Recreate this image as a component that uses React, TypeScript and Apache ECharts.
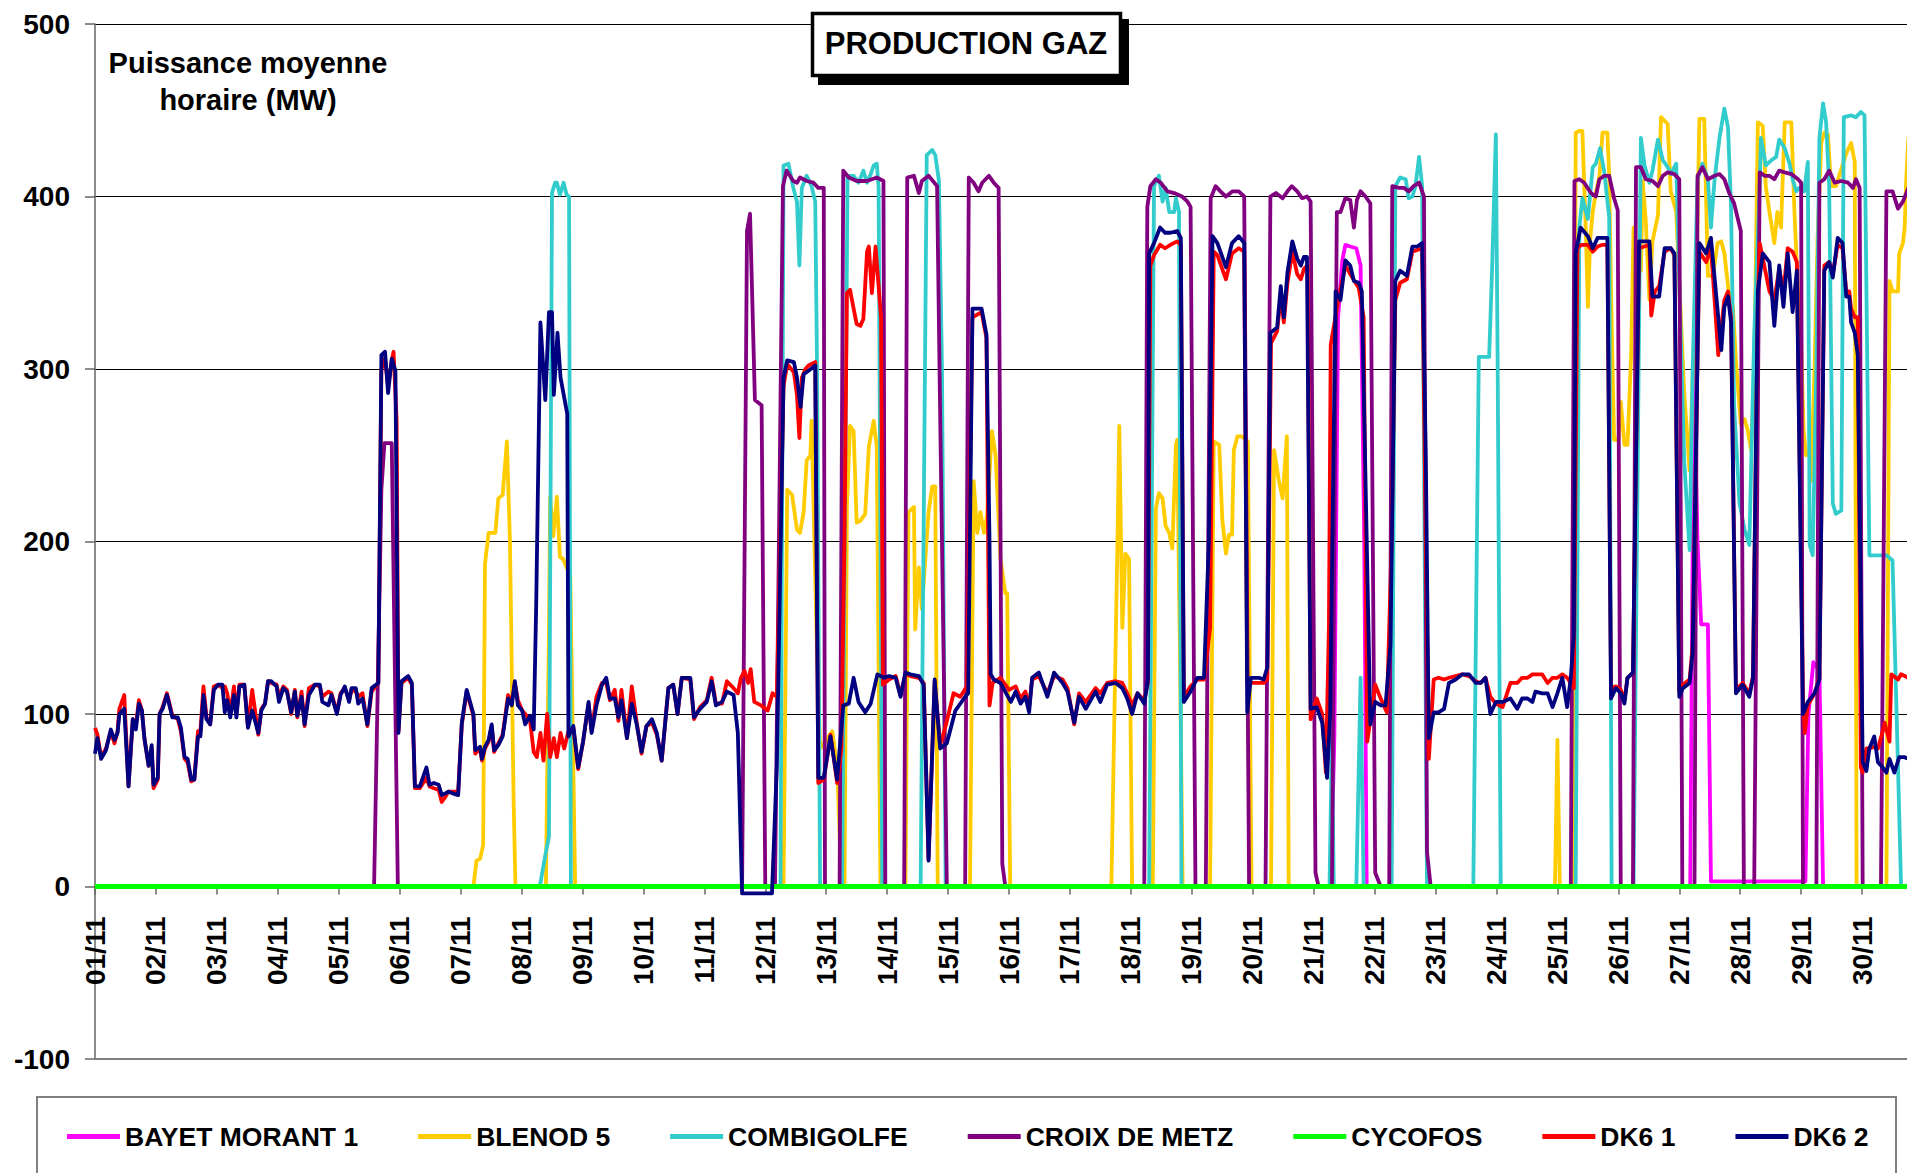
import React, { useEffect, useRef } from "react";
import * as echarts from "echarts";

const FONT = '"Liberation Sans", Arial, Helvetica, sans-serif';

const SERIES_NAMES = ["BAYET MORANT 1", "BLENOD 5", "COMBIGOLFE", "CROIX DE METZ", "CYCOFOS", "DK6 1", "DK6 2"];
const SERIES_COLORS = ["#FF00FF", "#FFCC00", "#33CCCC", "#800080", "#00FF00", "#FF0000", "#000080"];
const Y_TICKS = [-100, 0, 100, 200, 300, 400, 500];
const DAYS_IN_MONTH = 30;
const MONTH_LABEL = "11";

// [day offset from 01/11 00:00, MW]
const BAYET_MORANT_1 = [
  [0, 0], [20.28, 0], [20.34, 87], [20.40, 330], [20.47, 363], [20.52, 372], [20.60, 371], [20.70, 370], [20.77, 360], [20.83, 200], [20.87, 0],
  [26.18, 0], [26.24, 300], [26.30, 200], [26.36, 152], [26.47, 152], [26.52, 3], [28.07, 3], [28.12, 100], [28.20, 130], [28.30, 125], [28.36, 0], [30, 0],
];

const BLENOD_5 = [
  [0, 0], [6.21, 0], [6.26, 15], [6.32, 16], [6.37, 24], [6.40, 187], [6.46, 205], [6.57, 205], [6.62, 225], [6.69, 227], [6.76, 258], [6.81, 200], [6.87, 50], [6.90, 0],
  [7.40, 0], [7.45, 150], [7.47, 226], [7.52, 203], [7.58, 226], [7.63, 191], [7.68, 190], [7.80, 180], [7.88, 0],
  [11.30, 0], [11.36, 230], [11.44, 227], [11.52, 207], [11.57, 205], [11.63, 217], [11.68, 247], [11.74, 250], [11.76, 270], [11.84, 150], [11.90, 80], [12.00, 85], [12.10, 90], [12.18, 70], [12.25, 0],
  [12.30, 0], [12.34, 220], [12.39, 267], [12.45, 264], [12.50, 211], [12.56, 212], [12.64, 216], [12.70, 255], [12.78, 270], [12.83, 255], [12.89, 0],
  [13.30, 0], [13.35, 217], [13.44, 220], [13.46, 149], [13.52, 185], [13.57, 161], [13.68, 217], [13.74, 232], [13.79, 232], [13.83, 0],
  [14.36, 0], [14.42, 235], [14.48, 205], [14.53, 217], [14.59, 205], [14.64, 215], [14.72, 264], [14.78, 250], [14.86, 190], [14.94, 170], [14.97, 170], [15.02, 0],
  [16.68, 0], [16.78, 200], [16.81, 267], [16.86, 150], [16.91, 193], [16.97, 190], [17.02, 0],
  [17.36, 0], [17.41, 219], [17.46, 228], [17.52, 225], [17.57, 209], [17.63, 205], [17.68, 196], [17.74, 256], [17.76, 259], [17.80, 150], [17.85, 0],
  [18.30, 0], [18.36, 258], [18.45, 256], [18.50, 213], [18.56, 193], [18.61, 204], [18.66, 204], [18.69, 253], [18.75, 261], [18.82, 261], [18.92, 258], [18.98, 0],
  [19.30, 0], [19.35, 253], [19.43, 235], [19.49, 225], [19.56, 261], [19.59, 0],
  [23.96, 0], [24.00, 85], [24.04, 0],
  [24.27, 0], [24.30, 437], [24.36, 438], [24.41, 438], [24.47, 376], [24.50, 336], [24.54, 376], [24.58, 391], [24.63, 402], [24.69, 412], [24.74, 437], [24.82, 437], [24.85, 412], [24.88, 345], [24.93, 259],
  [25.00, 259], [25.04, 281], [25.10, 256], [25.15, 256], [25.21, 308], [25.25, 382], [25.37, 357], [25.40, 409], [25.45, 386], [25.51, 340], [25.56, 374], [25.65, 389], [25.70, 446], [25.81, 442], [25.86, 403], [25.95, 391],
  [26.00, 351], [26.08, 287], [26.17, 241], [26.22, 296], [26.28, 345], [26.33, 445], [26.41, 445], [26.47, 354], [26.55, 354], [26.63, 373], [26.69, 374], [26.74, 367], [26.82, 342], [26.88, 336], [26.93, 305],
  [27.01, 268], [27.07, 271], [27.12, 265], [27.18, 253], [27.23, 296], [27.29, 443], [27.37, 441], [27.42, 406], [27.48, 391], [27.56, 373], [27.61, 391], [27.67, 382], [27.73, 443], [27.84, 443], [27.89, 391], [27.95, 345],
  [28.00, 314], [28.04, 265], [28.08, 250], [28.14, 253], [28.16, 235], [28.22, 300], [28.27, 376], [28.33, 431], [28.38, 437], [28.44, 436], [28.49, 406], [28.57, 406], [28.66, 416], [28.74, 425], [28.82, 431], [28.88, 420], [28.91, 0],
  [29.40, 0], [29.45, 351], [29.50, 345], [29.59, 345], [29.61, 367], [29.67, 373], [29.70, 382], [29.72, 406], [29.76, 434], [29.90, 440], [30, 440],
];

const COMBIGOLFE = [
  [0, 0], [7.30, 0], [7.39, 18], [7.45, 29], [7.50, 402], [7.55, 408], [7.58, 408], [7.63, 401], [7.69, 408], [7.74, 401], [7.78, 400], [7.81, 0],
  [11.25, 0], [11.30, 418], [11.38, 419], [11.46, 405], [11.52, 397], [11.56, 360], [11.60, 405], [11.68, 412], [11.76, 406], [11.82, 397], [11.85, 300], [11.90, 0],
  [12.26, 0], [12.35, 412], [12.45, 412], [12.53, 408], [12.61, 415], [12.67, 408], [12.72, 412], [12.78, 418], [12.83, 419], [12.86, 405], [12.92, 0],
  [13.55, 0], [13.65, 424], [13.74, 427], [13.79, 424], [13.85, 409], [13.90, 300], [13.96, 0],
  [17.30, 0], [17.38, 406], [17.46, 412], [17.52, 397], [17.57, 405], [17.63, 391], [17.71, 391], [17.74, 399], [17.79, 391], [17.83, 0],
  [20.26, 0], [20.30, 87], [20.33, 0], [20.70, 0], [20.77, 121], [20.82, 0],
  [21.28, 0], [21.34, 406], [21.42, 411], [21.51, 410], [21.56, 399], [21.62, 400], [21.67, 406], [21.73, 423], [21.78, 406], [21.86, 0],
  [22.62, 0], [22.71, 307], [22.88, 307], [22.93, 360], [22.99, 436], [23.02, 300], [23.07, 0],
  [24.30, 0], [24.36, 382], [24.41, 399], [24.50, 387], [24.58, 417], [24.63, 419], [24.70, 428], [24.77, 414], [24.85, 388], [24.89, 0],
  [25.25, 0], [25.37, 434], [25.43, 418], [25.51, 408], [25.56, 415], [25.65, 433], [25.73, 421], [25.81, 417], [25.86, 413], [25.95, 419],
  [26.00, 351], [26.08, 247], [26.17, 195], [26.22, 300], [26.30, 410], [26.38, 419], [26.47, 410], [26.52, 382], [26.58, 410], [26.66, 434], [26.74, 451], [26.80, 440], [26.85, 394], [26.90, 278], [26.99, 222],
  [27.07, 207], [27.15, 198], [27.23, 320], [27.32, 406], [27.34, 434], [27.42, 418], [27.51, 421], [27.59, 423], [27.64, 433], [27.73, 428], [27.81, 419], [27.86, 410], [27.92, 403], [27.97, 405],
  [28.05, 403], [28.11, 420], [28.14, 198], [28.19, 192], [28.25, 300], [28.30, 434], [28.36, 454], [28.41, 443], [28.46, 406], [28.52, 222], [28.57, 216], [28.66, 218], [28.70, 446], [28.82, 447], [28.90, 446], [28.98, 449],
  [29.04, 447], [29.12, 192], [29.23, 192], [29.40, 192], [29.50, 189], [29.59, 69], [29.64, 0], [30, 0],
];

const CROIX_DE_METZ = [
  [0, 0], [4.58, 0], [4.70, 230], [4.75, 257], [4.87, 257], [4.97, 0],
  [10.62, 0], [10.70, 380], [10.75, 390], [10.83, 282], [10.94, 279], [11.00, 0],
  [11.16, 0], [11.29, 406], [11.35, 415], [11.46, 409], [11.52, 408], [11.57, 411], [11.68, 409], [11.79, 408], [11.87, 405], [11.96, 405], [11.98, 0],
  [12.22, 0], [12.28, 415], [12.37, 411], [12.50, 409], [12.67, 409], [12.83, 411], [12.94, 409], [12.97, 0],
  [13.28, 0], [13.33, 411], [13.44, 412], [13.52, 402], [13.57, 409], [13.68, 412], [13.82, 406], [13.86, 300], [13.98, 0],
  [14.28, 0], [14.34, 411], [14.42, 408], [14.50, 403], [14.56, 408], [14.67, 412], [14.75, 408], [14.83, 405], [14.89, 13], [14.94, 0],
  [17.22, 0], [17.27, 394], [17.32, 406], [17.41, 410], [17.49, 408], [17.60, 403], [17.71, 402], [17.84, 400], [17.93, 397], [17.98, 394], [18.06, 0],
  [18.23, 0], [18.31, 399], [18.39, 406], [18.47, 403], [18.56, 400], [18.67, 403], [18.77, 403], [18.86, 400], [18.94, 0],
  [19.21, 0], [19.29, 400], [19.38, 402], [19.49, 399], [19.57, 403], [19.64, 406], [19.73, 403], [19.81, 399], [19.89, 400], [19.95, 397], [20.03, 8], [20.08, 0],
  [20.30, 0], [20.38, 391], [20.44, 391], [20.52, 399], [20.60, 398], [20.66, 382], [20.71, 398], [20.77, 403], [20.85, 400], [20.93, 396], [21.01, 8], [21.10, 0],
  [21.24, 0], [21.29, 406], [21.40, 405], [21.48, 405], [21.56, 403], [21.64, 406], [21.73, 408], [21.81, 400], [21.86, 20], [21.92, 0],
  [24.22, 0], [24.28, 409], [24.36, 410], [24.44, 408], [24.55, 402], [24.63, 400], [24.69, 410], [24.77, 412], [24.85, 412], [24.93, 399], [24.99, 392], [25.04, 0],
  [25.24, 0], [25.29, 417], [25.37, 417], [25.45, 410], [25.56, 409], [25.65, 406], [25.73, 412], [25.81, 414], [25.92, 413], [26.00, 410], [26.05, 0],
  [26.25, 0], [26.30, 412], [26.38, 417], [26.47, 410], [26.58, 412], [26.66, 413], [26.74, 410], [26.82, 402], [26.90, 396], [27.01, 380], [27.06, 0],
  [27.23, 0], [27.32, 414], [27.40, 412], [27.48, 412], [27.56, 410], [27.64, 415], [27.73, 414], [27.84, 413], [27.95, 410], [28.00, 408], [28.03, 0],
  [28.25, 0], [28.30, 408], [28.38, 410], [28.46, 415], [28.55, 408], [28.66, 409], [28.77, 408], [28.85, 405], [28.90, 410], [28.96, 405], [29.01, 0],
  [29.31, 0], [29.40, 403], [29.50, 403], [29.59, 393], [29.67, 397], [29.76, 405], [29.90, 405], [30, 400],
];

const CYCOFOS = [[0, 0], [30, 0]];

const DK6_1 = [
  [0, 92], [0.04, 88], [0.10, 75], [0.18, 80], [0.26, 90], [0.32, 83], [0.37, 90], [0.40, 103], [0.48, 111], [0.55, 58], [0.62, 97], [0.67, 93], [0.72, 108], [0.77, 102], [0.81, 86], [0.88, 70], [0.93, 80], [0.96, 57],
  [1.03, 62], [1.06, 100], [1.11, 104], [1.18, 112], [1.27, 99], [1.36, 97], [1.41, 90], [1.47, 74], [1.52, 72], [1.58, 61], [1.63, 62], [1.69, 90], [1.73, 90], [1.78, 116], [1.83, 98], [1.89, 94], [1.95, 116],
  [2.02, 117], [2.09, 115], [2.13, 116], [2.17, 112], [2.22, 100], [2.28, 116], [2.32, 100], [2.37, 117], [2.45, 117], [2.51, 93], [2.58, 114], [2.68, 88], [2.73, 103], [2.79, 106], [2.84, 119], [2.89, 118], [2.98, 117],
  [3.02, 110], [3.09, 116], [3.15, 114], [3.22, 100], [3.28, 114], [3.32, 98], [3.39, 113], [3.44, 93], [3.51, 115], [3.61, 117], [3.69, 116], [3.73, 110], [3.83, 113], [3.88, 112], [3.97, 101],
  [4.03, 112], [4.10, 115], [4.17, 108], [4.21, 114], [4.28, 113], [4.32, 110], [4.39, 112], [4.47, 93], [4.54, 113], [4.65, 118], [4.70, 300], [4.76, 306], [4.81, 290], [4.87, 305], [4.90, 310], [4.95, 270], [4.98, 90],
  [5.03, 118], [5.14, 121], [5.20, 117], [5.25, 57], [5.33, 57], [5.44, 63], [5.49, 58], [5.56, 57], [5.64, 56], [5.69, 49], [5.75, 52], [5.80, 55], [5.87, 55], [5.96, 55],
  [6.02, 94], [6.10, 113], [6.21, 99], [6.24, 77], [6.32, 80], [6.35, 73], [6.40, 80], [6.46, 84], [6.51, 93], [6.55, 78], [6.62, 83], [6.69, 88], [6.78, 111], [6.84, 107], [6.89, 118], [6.94, 108],
  [7.01, 102], [7.06, 100], [7.14, 96], [7.20, 78], [7.25, 75], [7.31, 89], [7.36, 73], [7.42, 100], [7.47, 75], [7.53, 86], [7.58, 75], [7.64, 89], [7.70, 80], [7.77, 90], [7.85, 92], [7.93, 68],
  [8.01, 84], [8.10, 106], [8.15, 90], [8.23, 110], [8.32, 118], [8.39, 118], [8.45, 108], [8.53, 114], [8.59, 96], [8.64, 114], [8.73, 86], [8.81, 116], [8.89, 95], [8.97, 77],
  [9.05, 93], [9.14, 95], [9.22, 88], [9.30, 73], [9.41, 115], [9.49, 117], [9.56, 100], [9.63, 121], [9.77, 120], [9.83, 97], [9.93, 104],
  [10.04, 108], [10.12, 121], [10.19, 106], [10.29, 106], [10.37, 119], [10.48, 115], [10.55, 112], [10.60, 121], [10.66, 125], [10.72, 118], [10.76, 126], [10.82, 107], [10.93, 105],
  [11.04, 102], [11.12, 112], [11.19, 110], [11.30, 290], [11.36, 303], [11.47, 298], [11.52, 285], [11.56, 260], [11.60, 295], [11.66, 300], [11.71, 302], [11.82, 304], [11.87, 60], [11.96, 62],
  [12.07, 88], [12.18, 60], [12.25, 80], [12.30, 200], [12.34, 344], [12.39, 346], [12.45, 335], [12.50, 326], [12.56, 325], [12.61, 329], [12.67, 368], [12.70, 371], [12.75, 344], [12.81, 371], [12.90, 330], [12.93, 117],
  [13.03, 120], [13.14, 122], [13.22, 111], [13.30, 123], [13.38, 122], [13.52, 121], [13.60, 118], [13.68, 16], [13.78, 119], [13.87, 82], [13.96, 93],
  [14.09, 112], [14.20, 110], [14.31, 116], [14.40, 330], [14.55, 333], [14.63, 318], [14.68, 105], [14.73, 118], [14.86, 121],
  [15.00, 114], [15.11, 116], [15.19, 109], [15.27, 113], [15.33, 104], [15.38, 120], [15.49, 122], [15.63, 112], [15.74, 122], [15.88, 120], [15.96, 115],
  [16.07, 94], [16.15, 112], [16.26, 107], [16.42, 115], [16.50, 112], [16.61, 118], [16.75, 119], [16.86, 118], [16.94, 112],
  [17.02, 105], [17.11, 112], [17.22, 108], [17.28, 118], [17.32, 360], [17.38, 366], [17.48, 372], [17.56, 370], [17.65, 372], [17.76, 374], [17.82, 372], [17.87, 110], [17.98, 116],
  [18.09, 120], [18.20, 120], [18.30, 150], [18.36, 368], [18.42, 366], [18.56, 352], [18.66, 367], [18.77, 370], [18.86, 368], [18.91, 118], [18.97, 118],
  [19.10, 118], [19.18, 118], [19.24, 120], [19.30, 315], [19.40, 322], [19.46, 342], [19.51, 327], [19.57, 350], [19.65, 368], [19.73, 355], [19.79, 352], [19.84, 358], [19.90, 360], [19.95, 97],
  [20.05, 109], [20.14, 100], [20.20, 66], [20.25, 150], [20.28, 314], [20.40, 339], [20.52, 360], [20.60, 355], [20.74, 347], [20.82, 330], [20.88, 84],
  [21.01, 117], [21.10, 109], [21.20, 101], [21.28, 200], [21.34, 340], [21.42, 350], [21.53, 352], [21.62, 368], [21.70, 369], [21.78, 370], [21.84, 200], [21.89, 74], [21.97, 120],
  [22.05, 121], [22.14, 120], [22.22, 121], [22.33, 122], [22.44, 123], [22.55, 122], [22.66, 119], [22.74, 118], [22.82, 121], [22.90, 110], [22.99, 106],
  [23.10, 104], [23.23, 118], [23.34, 118], [23.42, 121], [23.51, 121], [23.59, 123], [23.64, 123], [23.75, 123], [23.84, 118], [23.92, 121],
  [24.00, 121], [24.08, 123], [24.16, 121], [24.22, 118], [24.27, 115], [24.33, 370], [24.39, 372], [24.50, 372], [24.58, 368], [24.66, 371], [24.74, 372], [24.82, 372], [24.88, 115], [24.96, 116],
  [25.04, 114], [25.10, 108], [25.15, 121], [25.24, 124], [25.34, 370], [25.51, 372], [25.54, 331], [25.60, 345], [25.67, 348], [25.76, 368], [25.86, 370], [25.92, 366],
  [26.00, 113], [26.06, 117], [26.17, 120], [26.22, 140], [26.33, 368], [26.44, 362], [26.52, 370], [26.58, 340], [26.64, 308], [26.74, 340], [26.80, 345], [26.85, 330], [26.93, 114],
  [27.04, 118], [27.15, 112], [27.21, 122], [27.29, 340], [27.32, 373], [27.48, 345], [27.56, 340], [27.64, 358], [27.71, 345], [27.78, 370], [27.86, 368], [27.93, 362],
  [28.03, 110], [28.06, 89], [28.11, 105], [28.22, 112], [28.30, 121], [28.38, 360], [28.46, 362], [28.52, 355], [28.60, 372], [28.68, 370], [28.74, 345], [28.79, 345], [28.82, 335], [28.88, 330], [28.93, 330], [28.98, 69],
  [29.01, 66], [29.07, 80], [29.12, 80], [29.20, 81], [29.26, 80], [29.34, 90], [29.37, 95], [29.45, 84], [29.48, 123], [29.59, 120], [29.64, 123], [29.76, 121], [29.90, 122], [30, 121],
];

const DK6_2 = [
  [0, 77], [0.04, 86], [0.10, 74], [0.18, 79], [0.26, 91], [0.32, 85], [0.37, 89], [0.40, 100], [0.48, 103], [0.55, 58], [0.62, 97], [0.67, 91], [0.72, 106], [0.77, 102], [0.81, 86], [0.88, 70], [0.93, 82], [0.96, 59],
  [1.03, 63], [1.06, 100], [1.11, 103], [1.18, 111], [1.27, 98], [1.36, 98], [1.41, 92], [1.47, 75], [1.52, 74], [1.58, 62], [1.63, 62], [1.69, 87], [1.73, 87], [1.78, 111], [1.83, 97], [1.89, 94], [1.95, 114],
  [2.02, 117], [2.09, 117], [2.13, 101], [2.17, 108], [2.22, 98], [2.28, 111], [2.32, 98], [2.37, 116], [2.45, 117], [2.51, 92], [2.58, 102], [2.68, 89], [2.73, 102], [2.79, 106], [2.84, 119], [2.89, 119], [2.98, 116],
  [3.02, 107], [3.09, 115], [3.15, 113], [3.22, 101], [3.28, 113], [3.32, 99], [3.39, 110], [3.44, 94], [3.51, 111], [3.61, 117], [3.69, 117], [3.73, 107], [3.83, 105], [3.88, 111], [3.97, 100],
  [4.03, 111], [4.10, 116], [4.17, 107], [4.21, 115], [4.28, 115], [4.32, 106], [4.39, 109], [4.47, 94], [4.54, 115], [4.65, 118], [4.70, 308], [4.76, 310], [4.81, 286], [4.87, 306], [4.93, 299], [4.98, 89],
  [5.03, 119], [5.14, 122], [5.20, 118], [5.25, 58], [5.33, 58], [5.44, 69], [5.49, 59], [5.56, 60], [5.64, 59], [5.69, 53], [5.75, 54], [5.80, 55], [5.87, 54], [5.96, 53],
  [6.02, 95], [6.10, 114], [6.21, 100], [6.24, 79], [6.32, 81], [6.35, 74], [6.40, 81], [6.46, 85], [6.51, 94], [6.55, 79], [6.62, 82], [6.69, 87], [6.78, 109], [6.84, 105], [6.89, 119], [6.94, 105],
  [7.01, 102], [7.06, 94], [7.14, 99], [7.20, 91], [7.24, 162], [7.31, 327], [7.39, 282], [7.45, 333], [7.50, 333], [7.53, 285], [7.59, 321], [7.64, 295], [7.75, 274], [7.77, 87], [7.85, 93], [7.93, 69],
  [8.01, 84], [8.10, 107], [8.15, 89], [8.23, 105], [8.32, 117], [8.39, 121], [8.45, 109], [8.53, 109], [8.59, 98], [8.64, 108], [8.73, 86], [8.81, 106], [8.89, 94], [8.97, 78],
  [9.05, 93], [9.14, 97], [9.22, 89], [9.30, 73], [9.41, 115], [9.49, 117], [9.56, 100], [9.63, 121], [9.77, 121], [9.83, 98], [9.93, 103],
  [10.04, 107], [10.12, 119], [10.19, 105], [10.29, 107], [10.37, 113], [10.48, 111], [10.55, 89], [10.62, -4], [10.81, -4], [11.11, -4], [11.19, 70],
  [11.30, 295], [11.36, 305], [11.47, 304], [11.52, 295], [11.58, 278], [11.63, 297], [11.71, 299], [11.82, 302], [11.87, 63], [11.96, 63],
  [12.07, 87], [12.18, 62], [12.28, 105], [12.37, 106], [12.45, 121], [12.53, 107], [12.64, 101], [12.73, 106], [12.84, 123], [12.95, 121],
  [13.03, 122], [13.14, 121], [13.22, 110], [13.30, 124], [13.38, 123], [13.52, 122], [13.60, 117], [13.68, 15], [13.78, 120], [13.87, 80], [13.98, 83],
  [14.12, 102], [14.26, 109], [14.33, 112], [14.40, 335], [14.55, 335], [14.63, 320], [14.68, 200], [14.70, 123], [14.75, 120], [14.86, 118],
  [15.03, 107], [15.11, 113], [15.19, 106], [15.27, 110], [15.33, 101], [15.38, 121], [15.49, 124], [15.63, 110], [15.74, 124], [15.88, 118], [15.96, 113],
  [16.07, 95], [16.15, 110], [16.26, 103], [16.42, 113], [16.50, 107], [16.61, 117], [16.75, 118], [16.86, 115], [16.94, 109],
  [17.02, 100], [17.11, 112], [17.22, 106], [17.28, 120], [17.30, 367], [17.38, 373], [17.48, 382], [17.56, 379], [17.65, 379], [17.76, 380], [17.82, 376], [17.87, 107], [17.98, 113],
  [18.09, 121], [18.20, 121], [18.28, 200], [18.34, 377], [18.42, 373], [18.56, 359], [18.66, 373], [18.77, 377], [18.86, 373], [18.91, 101], [18.97, 121],
  [19.10, 121], [19.18, 120], [19.24, 127], [19.29, 321], [19.40, 324], [19.46, 348], [19.51, 330], [19.57, 356], [19.65, 374], [19.73, 364], [19.79, 360], [19.84, 365], [19.89, 365], [19.95, 103],
  [20.05, 104], [20.14, 95], [20.22, 63], [20.27, 100], [20.36, 345], [20.44, 340], [20.52, 363], [20.60, 360], [20.66, 351], [20.74, 350], [20.79, 345], [20.93, 94],
  [21.01, 107], [21.10, 105], [21.18, 105], [21.26, 140], [21.34, 351], [21.42, 357], [21.53, 354], [21.62, 371], [21.70, 371], [21.78, 373], [21.84, 250], [21.89, 86], [21.97, 101],
  [22.05, 101], [22.14, 103], [22.22, 118], [22.33, 120], [22.44, 123], [22.55, 123], [22.66, 118], [22.74, 118], [22.82, 121], [22.90, 100], [22.99, 107],
  [23.10, 107], [23.23, 109], [23.34, 103], [23.42, 109], [23.51, 109], [23.59, 107], [23.64, 113], [23.75, 112], [23.84, 112], [23.92, 104],
  [24.00, 112], [24.08, 121], [24.16, 104], [24.22, 121], [24.27, 146], [24.30, 367], [24.38, 382], [24.50, 377], [24.58, 370], [24.66, 376], [24.74, 376], [24.82, 376], [24.88, 109], [24.96, 115],
  [25.04, 112], [25.10, 106], [25.15, 121], [25.24, 124], [25.34, 374], [25.51, 374], [25.56, 342], [25.67, 342], [25.76, 370], [25.86, 370], [25.92, 367],
  [26.00, 110], [26.06, 115], [26.17, 118], [26.22, 136], [26.33, 373], [26.44, 367], [26.52, 376], [26.60, 345], [26.69, 311], [26.74, 336], [26.80, 342], [26.85, 327], [26.93, 112],
  [27.04, 117], [27.15, 110], [27.21, 121], [27.29, 345], [27.37, 367], [27.48, 362], [27.56, 325], [27.64, 360], [27.71, 336], [27.78, 367], [27.86, 333], [27.93, 357],
  [28.03, 100], [28.11, 107], [28.22, 112], [28.30, 120], [28.38, 357], [28.46, 362], [28.52, 353], [28.60, 376], [28.68, 373], [28.74, 342], [28.79, 342], [28.82, 327], [28.88, 321], [28.93, 308],
  [29.01, 72], [29.07, 67], [29.12, 80], [29.20, 87], [29.26, 72], [29.34, 69], [29.40, 66], [29.45, 74], [29.53, 66], [29.61, 75], [29.69, 75], [29.76, 74], [29.90, 72], [30, 74],
];

const SERIES_DATA = [BAYET_MORANT_1, BLENOD_5, COMBIGOLFE, CROIX_DE_METZ, CYCOFOS, DK6_1, DK6_2];

// layout (pixels)
const GRID_LEFT = 95;
const GRID_TOP = 24;
const GRID_WIDTH = 1828; // the 30th day ends just past the visible page edge
const GRID_HEIGHT = 1035;
const CANVAS_WIDTH = 1960;
const VIEW_WIDTH = 1907;
const VIEW_HEIGHT = 1173;

function dayLabel(v: number): string {
  if (v < 0 || v >= DAYS_IN_MONTH) return "";
  const d = Math.round(v) + 1;
  return (d < 10 ? "0" + d : String(d)) + "/" + MONTH_LABEL;
}

export default function App() {
  const ref = useRef<HTMLDivElement>(null);

  useEffect(() => {
    if (!ref.current) return;
    const chart = echarts.init(ref.current, undefined, { renderer: "svg" });

    const yMin = Y_TICKS[0];
    const yMax = Y_TICKS[Y_TICKS.length - 1];
    // move the category axis up to the zero line
    const zeroOffset = -GRID_HEIGHT * (0 - yMin) / (yMax - yMin);

    const series = SERIES_NAMES.map((name, i) => ({
      type: "line",
      name,
      data: SERIES_DATA[i],
      showSymbol: false,
      symbol: "none",
      lineStyle: { color: SERIES_COLORS[i], width: name === "CYCOFOS" ? 5 : 3.8, join: "round" },
      itemStyle: { color: SERIES_COLORS[i] },
      emphasis: { disabled: true },
      animation: false,
    }));

    chart.setOption({
      animation: false,
      backgroundColor: "#ffffff",
      textStyle: { fontFamily: FONT },
      grid: { left: GRID_LEFT, top: GRID_TOP, width: GRID_WIDTH, height: GRID_HEIGHT, containLabel: false },
      xAxis: {
        type: "value",
        min: 0,
        max: DAYS_IN_MONTH,
        interval: 1,
        position: "bottom",
        offset: zeroOffset,
        axisLine: { show: true, onZero: false, lineStyle: { color: "#666666", width: 1.5 } },
        axisTick: { show: true, length: 8, lineStyle: { color: "#666666", width: 1.5 } },
        axisLabel: {
          rotate: 90,
          margin: 30,
          fontSize: 28,
          fontWeight: "bold",
          fontFamily: FONT,
          color: "#000000",
          formatter: (v: number) => dayLabel(v),
          showMaxLabel: false,
        },
        splitLine: { show: false },
      },
      yAxis: {
        type: "value",
        min: yMin,
        max: yMax,
        interval: 100,
        axisLine: { show: true, onZero: false, lineStyle: { color: "#666666", width: 1.5 } },
        axisTick: { show: true, length: 10, lineStyle: { color: "#666666", width: 1.5 } },
        axisLabel: { margin: 25, fontSize: 28, fontWeight: "bold", fontFamily: FONT, color: "#000000" },
        splitLine: { show: true, lineStyle: { color: ["#808080", "#000000", "#000000", "#000000", "#000000", "#000000", "#000000"], width: 1 } },
      },
      legend: {
        data: SERIES_NAMES,
        left: 67,
        top: 1123,
        padding: 0,
        icon: "rect",
        itemWidth: 53,
        itemHeight: 5,
        itemGap: 60,
        selectedMode: false,
        textStyle: { fontSize: 26.5, fontWeight: "bold", fontFamily: FONT, color: "#000000" },
      },
      graphic: [
        { type: "line", shape: { x1: GRID_LEFT, y1: GRID_TOP + GRID_HEIGHT, x2: GRID_LEFT + GRID_WIDTH, y2: GRID_TOP + GRID_HEIGHT }, style: { stroke: "#808080", lineWidth: 2 }, z: 50 },
        { type: "rect", shape: { x: 37, y: 1097, width: 1859, height: 200 }, style: { fill: "none", stroke: "#808080", lineWidth: 2 }, z: 50 },
        { type: "rect", shape: { x: 818, y: 19, width: 311, height: 66 }, style: { fill: "#000000" }, z: 100 },
        { type: "rect", shape: { x: 812.5, y: 13.5, width: 308, height: 62 }, style: { fill: "#ffffff", stroke: "#000000", lineWidth: 3.5 }, z: 101 },
        {
          type: "text", x: 966, y: 43, z: 102,
          style: { text: "PRODUCTION GAZ", fontSize: 31, fontWeight: "bold", fontFamily: FONT, fill: "#000000", align: "center", verticalAlign: "middle" },
        },
        {
          type: "text", x: 248, y: 63, z: 102,
          style: { text: "Puissance moyenne", fontSize: 29, fontWeight: "bold", fontFamily: FONT, fill: "#000000", align: "center", verticalAlign: "middle" },
        },
        {
          type: "text", x: 248, y: 100, z: 102,
          style: { text: "horaire (MW)", fontSize: 29, fontWeight: "bold", fontFamily: FONT, fill: "#000000", align: "center", verticalAlign: "middle" },
        },
      ],
      series,
    });

    return () => chart.dispose();
  }, []);

  return (
    <div
      style={{ position: "fixed", left: 0, top: 0, width: VIEW_WIDTH, height: VIEW_HEIGHT, overflow: "hidden", background: "#ffffff" }}
    >
      <div ref={ref} style={{ position: "absolute", left: 0, top: 0, width: CANVAS_WIDTH, height: VIEW_HEIGHT }} />
    </div>
  );
}
